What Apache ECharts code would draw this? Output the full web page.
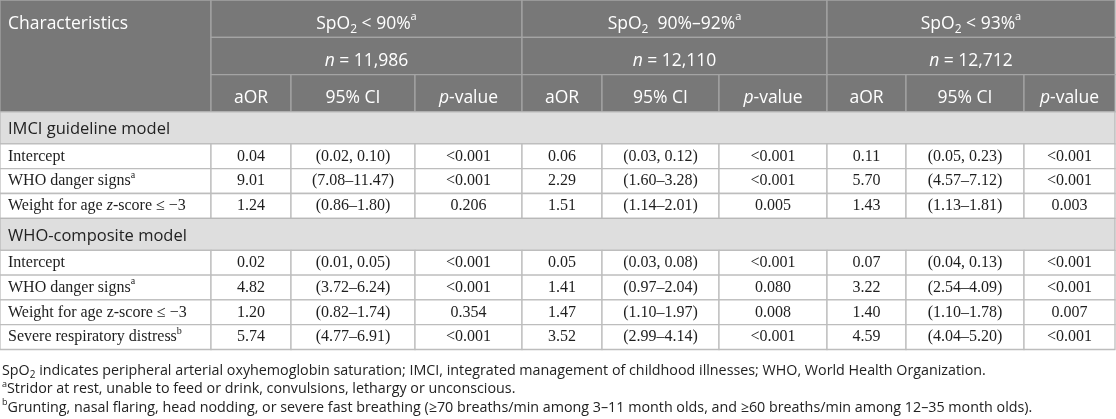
<!DOCTYPE html>
<html>
<head>
<meta charset="utf-8">
<script src="https://cdn.jsdelivr.net/npm/echarts@6/dist/echarts.min.js"></script>
<style>
  html, body { margin: 0; padding: 0; background: #fff; }
  #main { width: 1116px; height: 419px; }
</style>
</head>
<body>
<div id="main"></div>
<script>
// ---- table content ----
var groupLabels = ['SpO{sub|2} < 90%{sup|a}', 'SpO{sub|2}  90%–92%{sup|a}', 'SpO{sub|2} < 93%{sup|a}']
var groupN = ['11,986', '12,110', '12,712']
var statLabels = ['aOR', '95% CI', '{it|p}-value']
var sectionLabels = ['IMCI guideline model', 'WHO-composite model']

var imciLabels = ['Intercept', 'WHO danger signs{sup|a}', 'Weight for age {it|z}-score ≤ −3']
var imciAor = [['0.04', '0.06', '0.11'], ['9.01', '2.29', '5.70'], ['1.24', '1.51', '1.43']]
var imciCi = [
  ['(0.02, 0.10)', '(0.03, 0.12)', '(0.05, 0.23)'],
  ['(7.08–11.47)', '(1.60–3.28)', '(4.57–7.12)'],
  ['(0.86–1.80)', '(1.14–2.01)', '(1.13–1.81)']
]
var imciP = [['<0.001', '<0.001', '<0.001'], ['<0.001', '<0.001', '<0.001'], ['0.206', '0.005', '0.003']]

var whoLabels = ['Intercept', 'WHO danger signs{sup|a}', 'Weight for age z-score ≤ −3', 'Severe respiratory distress{sup|b}']
var whoAor = [['0.02', '0.05', '0.07'], ['4.82', '1.41', '3.22'], ['1.20', '1.47', '1.40'], ['5.74', '3.52', '4.59']]
var whoCi = [
  ['(0.01, 0.05)', '(0.03, 0.08)', '(0.04, 0.13)'],
  ['(3.72–6.24)', '(0.97–2.04)', '(2.54–4.09)'],
  ['(0.82–1.74)', '(1.10–1.97)', '(1.10–1.78)'],
  ['(4.77–6.91)', '(2.99–4.14)', '(4.04–5.20)']
]
var whoP = [['<0.001', '<0.001', '<0.001'], ['<0.001', '0.080', '<0.001'], ['0.354', '0.008', '0.007'], ['<0.001', '<0.001', '<0.001']]

var footnotes = [
  'SpO{sub|2} indicates peripheral arterial oxyhemoglobin saturation; IMCI, integrated management of childhood illnesses; WHO, World Health Organization.',
  '{sup|a}Stridor at rest, unable to feed or drink, convulsions, lethargy or unconscious.',
  '{sup|b}Grunting, nasal flaring, head nodding, or severe fast breathing (≥70 breaths/min among 3–11 month olds, and ≥60 breaths/min among 12–35 month olds).'
]

// ---- layout ----
var SANS = '"Open Sans", sans-serif'
var SERIF = '"Liberation Serif", serif'
var colX = [0, 211, 291, 415, 522, 602, 719, 827, 906, 1024, 1115]
var headH = 37.3
var sectionH = 32
var rowH = 24.8

var cells = []

function extend(a, b) {
  for (var k in b) if (!(k in a)) a[k] = b[k]
  return a
}

function addCell(x0, x1, y0, y1, o) {
  cells.push({ x0: x0, x1: x1, y0: y0, y1: y1, o: o })
}

function richFor(family, size, color) {
  return {
    sup: { fontFamily: family, fontSize: Math.round(size * 0.62), fill: color, verticalAlign: 'top', lineHeight: size * 0.8 },
    sub: { fontFamily: family, fontSize: Math.round(size * 0.68), fill: color, verticalAlign: 'bottom', lineHeight: size * 0.9 },
    it: { fontFamily: family, fontSize: size, fill: color, fontStyle: 'italic' }
  }
}

var headStyle = { fill: '#787878', stroke: '#a4a4a4', family: SANS, size: 17.5, color: '#fff', dy: 5 }
var secStyle = { fill: '#dedede', stroke: '#b8b8b8', family: SANS, size: 16.5, color: '#222', dy: 1.5 }
var bodyStyle = { fill: '#fff', stroke: '#bdbdbd', family: SERIF, size: 16, color: '#1e1e1e', dy: 0 }

function buildCells() {
  var y = 0
  var right = colX[colX.length - 1]
  // header
  addCell(0, colX[1], 0, headH * 3, extend({ text: 'Characteristics', align: 'left', vpos: headH / 2 }, headStyle))
  groupLabels.forEach(function (g, i) {
    var a = colX[1 + i * 3], b = colX[4 + i * 3]
    addCell(a, b, 0, headH, extend({ text: g }, headStyle))
    addCell(a, b, headH, headH * 2, extend({ text: '{it|n} = ' + groupN[i] }, headStyle))
    statLabels.forEach(function (s, j) {
      addCell(colX[1 + i * 3 + j], colX[2 + i * 3 + j], headH * 2, headH * 3, extend({ text: s }, headStyle))
    })
  })
  y = headH * 3

  var blocks = [
    [imciLabels, imciAor, imciCi, imciP],
    [whoLabels, whoAor, whoCi, whoP]
  ]
  blocks.forEach(function (blk, k) {
    addCell(0, right, y, y + sectionH, extend({ text: sectionLabels[k], align: 'left' }, secStyle))
    y += sectionH
    blk[0].forEach(function (label, r) {
      addCell(0, colX[1], y, y + rowH, extend({ text: label, align: 'left' }, bodyStyle))
      for (var g = 0; g < 3; g++) {
        var vals = [blk[1][r][g], blk[2][r][g], blk[3][r][g]]
        vals.forEach(function (v, j) {
          var c = 1 + g * 3 + j
          addCell(colX[c], colX[c + 1], y, y + rowH, extend({ text: v }, bodyStyle))
        })
      }
      y += rowH
    })
  })

  // footnotes
  var fy = y + 12
  footnotes.forEach(function (t, i) {
    addCell(1, right, fy + i * 18.4, fy + (i + 1) * 18.4, { text: t, align: 'left', pad: 1, family: SANS, size: 14.3, color: '#222', dy: 0 })
  })
}

buildCells()

function renderItem(params, api) {
  var c = cells[params.dataIndex]
  var p0 = api.coord([c.x0, c.y0])
  var p1 = api.coord([c.x1, c.y1])
  var o = c.o
  var children = []
  if (o.fill) {
    children.push({
      type: 'rect',
      shape: { x: p0[0], y: p0[1], width: p1[0] - p0[0], height: p1[1] - p0[1] },
      style: { fill: o.fill, stroke: o.stroke, lineWidth: 1.3 }
    })
  }
  var pad = o.pad != null ? o.pad : 8
  var tx = o.align === 'left' ? p0[0] + pad : (p0[0] + p1[0]) / 2
  var ty = (o.vpos != null ? p0[1] + o.vpos : (p0[1] + p1[1]) / 2) + (o.dy || 0)
  children.push({
    type: 'text',
    style: {
      text: o.text,
      x: tx,
      y: ty,
      align: o.align || 'center',
      verticalAlign: 'middle',
      fontFamily: o.family,
      fontSize: o.size,
      lineHeight: o.size * 1.35,
      fill: o.color,
      rich: richFor(o.family, o.size, o.color)
    }
  })
  return { type: 'group', children: children }
}

var obj = {
  init: function () {
    var myChart = echarts.init(document.getElementById('main'), null, { renderer: 'canvas' })
    myChart.setOption({
      animation: false,
      grid: { left: 0, right: 0, top: 0, bottom: 0 },
      xAxis: { type: 'value', min: 0, max: 1116, show: false },
      yAxis: { type: 'value', min: 0, max: 419, inverse: true, show: false },
      series: [{
        type: 'custom',
        coordinateSystem: 'cartesian2d',
        silent: true,
        clip: false,
        renderItem: renderItem,
        encode: { x: [0, 2], y: [1, 3] },
        data: cells.map(function (c) { return [c.x0, c.y0, c.x1, c.y1] })
      }]
    })
  }
}

obj.init()
</script>
</body>
</html>
